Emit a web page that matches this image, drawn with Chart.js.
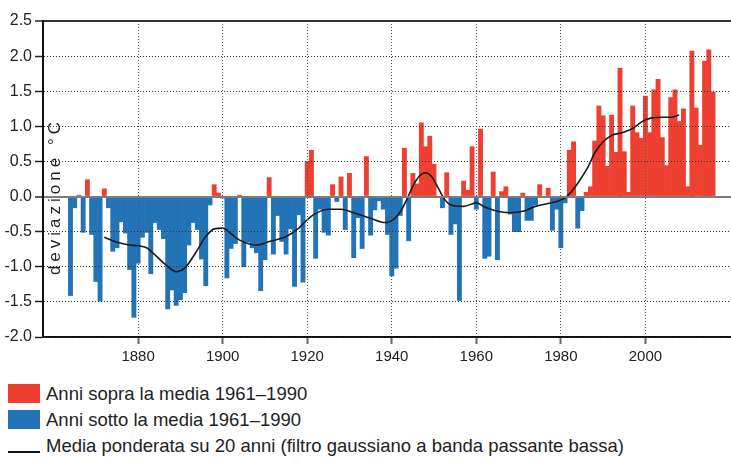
<!DOCTYPE html>
<html lang="it">
<head>
<meta charset="utf-8">
<title>Deviazione della temperatura</title>
<script src="https://cdn.jsdelivr.net/npm/chart.js@4.4.1/dist/chart.umd.min.js"></script>
<style>
    body { margin: 0; background: #fff; }
    #wrap { position: relative; width: 731px; height: 470px; font-family: 'Liberation Sans', Arial, sans-serif; color: #222; }
    #chart { position: absolute; left: 0; top: 0; }
    .legend-row { position: absolute; left: 8px; font-size: 18.5px; line-height: 22px; white-space: nowrap; }
    .swatch { position: absolute; left: 0; width: 32px; height: 19px; }
    .legend-row span.txt { position: absolute; left: 38px; top: 0; }
    .line-swatch { position: absolute; left: 0; top: 16px; width: 32px; height: 2px; background: #111; }
</style>
</head>
<body>
<div id="wrap">
    <canvas id="chart" width="731" height="370"></canvas>
    <div class="legend-row" style="top:383px"><div class="swatch" style="top:1px;background:#EE4031"></div><span class="txt">Anni sopra la media 1961–1990</span></div>
    <div class="legend-row" style="top:409px"><div class="swatch" style="top:1px;background:#2373B7"></div><span class="txt">Anni sotto la media 1961–1990</span></div>
    <div class="legend-row" style="top:435px"><div class="line-swatch"></div><span class="txt">Media ponderata su 20 anni (filtro gaussiano a banda passante bassa)</span></div>
</div>
<script>
// Primo anno della serie, poi una deviazione (°C) per anno, 1864-2016
const firstYear = 1864;
const anomalies = [
    -1.41, -0.16, 0.02, -0.51, 0.24, -0.54,
    -1.21, -1.49, 0.11, -0.16, -0.78, -0.73, -0.36, -0.52, -1.04, -1.72,
    -0.95, -0.58, -0.51, -1.10, -0.37, -0.47, -0.60, -1.60, -1.33, -1.55,
    -1.47, -1.37, -0.69, -0.37, -0.47, -0.89, -1.27, -0.12, 0.17, 0.05,
    -0.02, -1.16, -0.74, -0.67, 0.02, -1.00, -0.65, -0.73, -0.80, -1.34,
    -0.90, 0.27, -0.82, -0.27, -0.64, -0.82, -0.46, -1.28, -0.26, -1.22,
    0.50, 0.66, -0.88, -0.18, -0.51, -0.55, 0.17, -0.07, 0.28, -0.47,
    0.33, -0.87, -0.30, -0.74, 0.57, -0.55, -0.19, -0.06, -0.18, -0.54,
    -1.13, -1.02, -0.27, 0.69, -0.63, 0.33, 0.18, 1.05, 0.71, 0.86,
    0.46, 0.00, -0.16, 0.34, -0.54, -0.39, -1.48, 0.22, 0.09, 0.71,
    -0.18, 0.96, -0.88, -0.85, 0.35, -0.90, 0.07, 0.14, -0.25, -0.50,
    -0.50, 0.05, -0.34, -0.34, -0.12, 0.17, 0.00, 0.12, -0.48, -0.18,
    -0.73, -0.09, 0.66, 0.78, -0.45, -0.20, 0.06, 0.14, 0.79, 1.29,
    1.15, 0.43, 1.16, 0.63, 1.83, 0.64, 0.06, 1.29, 0.91, 0.83,
    1.43, 0.91, 1.52, 1.67, 0.84, 0.44, 1.41, 1.52, 1.07, 1.25,
    0.14, 2.07, 1.26, 0.73, 1.93, 2.09, 1.49
];
const years = anomalies.map((_, i) => firstYear + i);

const smoothYears = [1872, 1875, 1878, 1880, 1882, 1884, 1886.5, 1889, 1891, 1893.5,
    1896, 1898, 1900, 1902, 1904, 1908, 1911, 1915, 1918, 1920,
    1922, 1925, 1928, 1931, 1935, 1938.5, 1940.5, 1942, 1943.5, 1945,
    1946.5, 1948, 1949.5, 1951, 1952.5, 1954, 1957, 1960, 1962, 1965,
    1968, 1971, 1974, 1977, 1979, 1981, 1982.5, 1984, 1986.5, 1988,
    1990, 1992, 1994.5, 1997, 1999, 2001.5, 2004, 2006, 2008];
const smoothValues = [-0.58, -0.65, -0.69, -0.70, -0.73, -0.83, -0.97, -1.07, -1.02, -0.81,
    -0.57, -0.46, -0.45, -0.53, -0.62, -0.69, -0.64, -0.57, -0.45, -0.33,
    -0.24, -0.18, -0.18, -0.23, -0.31, -0.37, -0.32, -0.22, -0.05, 0.15,
    0.29, 0.34, 0.28, 0.12, -0.04, -0.12, -0.14, -0.09, -0.15, -0.21,
    -0.23, -0.21, -0.14, -0.10, -0.07, -0.02, 0.07, 0.19, 0.43, 0.62,
    0.78, 0.87, 0.91, 0.97, 1.06, 1.12, 1.13, 1.13, 1.16];

const tickYears = [1880, 1900, 1920, 1940, 1960, 1980, 2000];

const RED = '#EE4031';
const BLUE = '#2373B7';
const FONT = "'Liberation Sans', Arial, sans-serif";

// Barre sopra e sotto lo zero in due serie separate
const aboveData = [];
const belowData = [];
years.forEach((year, i) => {
    if (anomalies[i] >= 0) aboveData.push({ x: year, y: anomalies[i] });
    else belowData.push({ x: year, y: anomalies[i] });
});
const smoothData = smoothYears.map((year, i) => ({ x: year, y: smoothValues[i] }));

// Titolo verticale dentro l'area del grafico
const axisTitle = {
    id: 'axisTitle',
    afterDraw(chart) {
        const { ctx, chartArea, scales } = chart;
        ctx.save();
        ctx.translate(chartArea.left + 12, scales.y.getPixelForValue(0));
        ctx.rotate(-Math.PI / 2);
        ctx.font = '17px ' + FONT;
        ctx.fillStyle = '#222';
        ctx.textAlign = 'center';
        ctx.textBaseline = 'middle';
        ctx.letterSpacing = '4px';
        ctx.fillText('deviazione °C', 0, 0);
        ctx.restore();
    }
};

const isSolid = v => v === 0 || v === 2.5;

const ctx = document.getElementById('chart').getContext('2d');
new Chart(ctx, {
    type: 'bar',
    data: {
        datasets: [
            {
                type: 'line',
                label: 'Media ponderata su 20 anni (filtro gaussiano a banda passante bassa)',
                data: smoothData,
                borderColor: '#1a1a1a',
                borderWidth: 1.6,
                pointRadius: 0,
                cubicInterpolationMode: 'monotone',
                order: 0
            },
            {
                label: 'Anni sopra la media 1961–1990',
                data: aboveData,
                backgroundColor: RED,
                barPercentage: 1,
                categoryPercentage: 1,
                grouped: false,
                order: 1
            },
            {
                label: 'Anni sotto la media 1961–1990',
                data: belowData,
                backgroundColor: BLUE,
                barPercentage: 1,
                categoryPercentage: 1,
                grouped: false,
                order: 1
            }
        ]
    },
    options: {
        responsive: false,
        devicePixelRatio: 1,
        animation: false,
        layout: { padding: { top: 21, left: 0, right: 0, bottom: 0 } },
        plugins: {
            legend: { display: false },
            tooltip: { enabled: false }
        },
        scales: {
            x: {
                type: 'linear',
                offset: false,
                bounds: 'data',
                min: 1857.5,
                max: 2020.25,
                afterBuildTicks: axis => { axis.ticks = tickYears.map(v => ({ value: v })); },
                afterFit: axis => { axis.height = 33; },
                ticks: {
                    callback: v => String(v),
                    color: '#222',
                    font: { family: FONT, size: 15 },
                    padding: 4,
                    maxRotation: 0
                },
                grid: {
                    offset: false,
                    color: '#555',
                    lineWidth: 1,
                    tickLength: 7,
                    tickColor: '#666',
                    tickWidth: 2,
                    z: 1
                },
                border: { color: '#111', width: 2, dash: [1, 2], z: 1 }
            },
            y: {
                min: -2,
                max: 2.5,
                afterFit: axis => { axis.width = 43; },
                ticks: {
                    stepSize: 0.5,
                    callback: v => v.toFixed(1),
                    color: '#222',
                    font: { family: FONT, size: 16 },
                    padding: 3
                },
                grid: {
                    color: c => c.tick && c.tick.value === 0 ? '#7d7d7d' : '#333',
                    lineWidth: c => c.tick && isSolid(c.tick.value) ? 2 : 1,
                    tickLength: 8,
                    tickColor: '#222',
                    tickWidth: 1.5,
                    z: 1
                },
                border: {
                    color: '#111',
                    width: 2,
                    dash: c => c.tick && isSolid(c.tick.value) ? [] : [1, 2],
                    z: 1
                }
            }
        }
    },
    plugins: [axisTitle]
});
</script>
</body>
</html>
